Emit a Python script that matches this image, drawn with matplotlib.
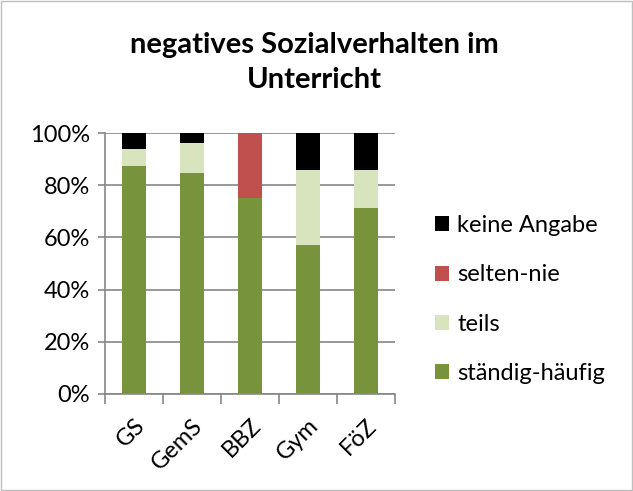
import numpy as np
import matplotlib.pyplot as plt
from matplotlib.ticker import FixedLocator, PercentFormatter

# data ################
schools = ["GS", "GemS", "BBZ", "Gym", "FöZ"]
staendig_haeufig = [87.5, 84.6, 75.0, 57.1, 71.4]
teils = [6.25, 11.5, 0.0, 28.6, 14.3]
selten_nie = [0.0, 0.0, 25.0, 0.0, 0.0]
keine_angabe = [6.25, 3.9, 0.0, 14.3, 14.3]
#######################

series = [
    ("ständig-häufig", staendig_haeufig, "#77933c"),
    ("teils", teils, "#d7e4bd"),
    ("selten-nie", selten_nie, "#c0504d"),
    ("keine Angabe", keine_angabe, "#000000"),
]

plt.rcParams["font.family"] = ["Lato", "DejaVu Sans"]

fig = plt.figure(figsize=(6.33, 4.91), dpi=100)
ax = fig.add_axes([105 / 633, 1 - 394 / 491, 290 / 633, 261 / 491])

x = np.arange(len(schools))
bottom = np.zeros(len(schools))
handles = []
for label, vals, color in series:
    vals = np.array(vals)
    b = ax.bar(x, vals, width=0.4, bottom=bottom, color=color, label=label, zorder=2)
    handles.append(b)
    bottom += vals

ax.set_xlim(-0.5, len(schools) - 0.5)
ax.set_ylim(0, 100)
ax.yaxis.set_major_locator(FixedLocator([0, 20, 40, 60, 80, 100]))
ax.yaxis.set_major_formatter(PercentFormatter(decimals=0))
ax.grid(axis="y", color="#868686", linewidth=1.2, zorder=0)

ax.set_xticks(x)
ax.set_xticklabels(schools, rotation=45, ha="right", rotation_mode="anchor", fontsize=17)
ax.tick_params(axis="x", length=0, pad=15)
ax.set_xticks(np.arange(len(schools) + 1) - 0.5, minor=True)
ax.tick_params(axis="x", which="minor", length=7, color="#868686", width=1.2)
ax.tick_params(axis="y", labelsize=17, length=5, color="#868686", width=1.2, pad=6)

for side in ["top", "right"]:
    ax.spines[side].set_visible(False)
for side in ["left", "bottom"]:
    ax.spines[side].set_color("#868686")
    ax.spines[side].set_linewidth(1.2)

fig.text(0.497, 0.908, "negatives Sozialverhalten im", ha="center", va="center",
         fontsize=21, fontweight="bold")
fig.text(0.497, 0.837, "Unterricht", ha="center", va="center",
         fontsize=21, fontweight="bold")

leg = fig.legend(handles[::-1], [s[0] for s in series][::-1], loc="center left",
                 bbox_to_anchor=(0.653, 0.39), frameon=False, fontsize=17,
                 handlelength=0.6, handleheight=0.6, handletextpad=0.35,
                 labelspacing=1.2)

fig.patches.append(plt.Rectangle((0.002, 0.002), 0.996, 0.996, transform=fig.transFigure,
                                 fill=False, edgecolor="#bfbfbf", linewidth=1))

fig.savefig("out.png", dpi=100)
